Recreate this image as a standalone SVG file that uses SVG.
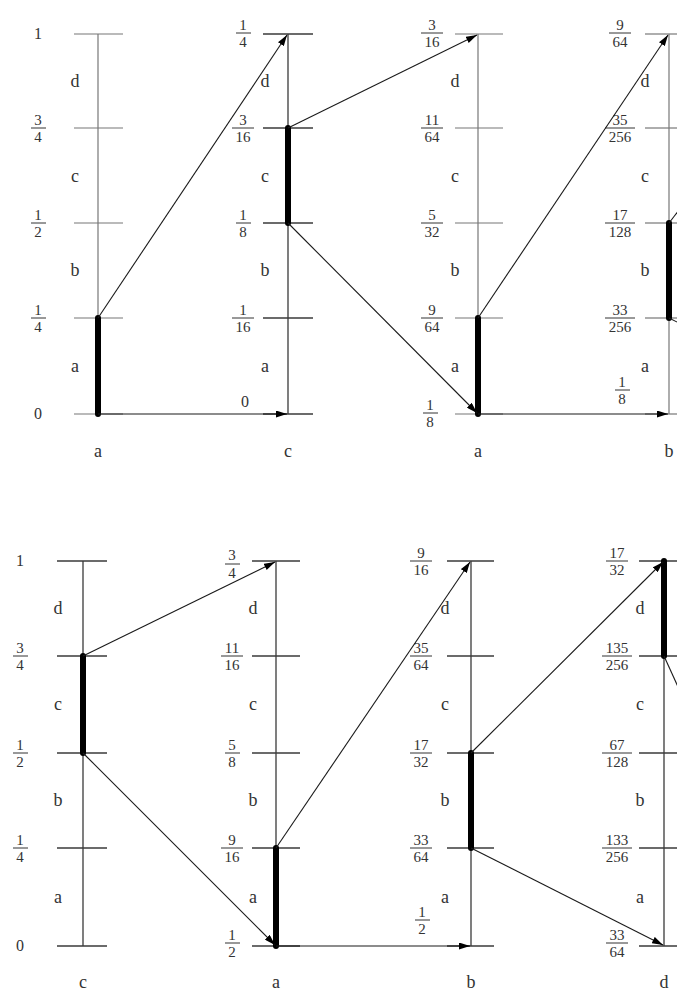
<svg xmlns="http://www.w3.org/2000/svg" width="677" height="996" viewBox="0 0 677 996">
<style>
  .ax { stroke: #3a3a3a; stroke-width: 1.3; fill: none; }
  .ax2 { stroke: #777; stroke-width: 1.2; fill: none; }
  .bar { stroke: #000; stroke-width: 6; stroke-linecap: round; fill: none; }
  .arr { stroke: #1a1a1a; stroke-width: 1.1; fill: none; marker-end: url(#ah); }
  .ln { stroke: #1a1a1a; stroke-width: 1.1; fill: none; }
  .fb { stroke: #333; stroke-width: 1; }
  .fr { font-family: "Liberation Serif", "Times New Roman", serif; font-size: 15px; fill: #333; text-anchor: middle; }
  .dg { font-family: "Liberation Serif", "Times New Roman", serif; font-size: 16px; fill: #333; text-anchor: middle; }
  .lt { font-family: "Liberation Serif", "Times New Roman", serif; font-size: 18px; fill: #333; text-anchor: middle; }
</style>
<defs>
  <marker id="ah" markerUnits="userSpaceOnUse" markerWidth="11" markerHeight="7" refX="11" refY="3.5" orient="auto">
    <path d="M0,0 L11,3.5 L0,7 z" fill="#000"/>
  </marker>
</defs>
<rect width="677" height="996" fill="#fff"/>

<!-- ============ TOP ROW ============ -->
<g id="top-col1">
  <line class="ax2" x1="98" y1="34" x2="98" y2="414"/>
  <g class="ax2"><line x1="74" y1="34" x2="123" y2="34"/><line x1="74" y1="128" x2="123" y2="128"/><line x1="74" y1="223" x2="123" y2="223"/><line x1="74" y1="318" x2="123" y2="318"/><line x1="74" y1="414" x2="123" y2="414"/></g>
  <line class="bar" x1="98" y1="318" x2="98" y2="414"/>
  <text class="dg" x="38" y="39">1</text>
  <text class="fr" x="38" y="125">3</text><line class="fb" x1="31" y1="128" x2="46" y2="128"/><text class="fr" x="38" y="142">4</text>
  <text class="fr" x="38" y="220">1</text><line class="fb" x1="31" y1="223" x2="46" y2="223"/><text class="fr" x="38" y="237">2</text>
  <text class="fr" x="38" y="315">1</text><line class="fb" x1="31" y1="318" x2="46" y2="318"/><text class="fr" x="38" y="332">4</text>
  <text class="dg" x="38" y="419">0</text>
  <text class="lt" x="75" y="87">d</text><text class="lt" x="75" y="182">c</text><text class="lt" x="75" y="276">b</text><text class="lt" x="75" y="372">a</text>
  <text class="lt" x="98" y="457">a</text>
</g>

<g id="top-col2">
  <line class="ax" x1="288" y1="34" x2="288" y2="414"/>
  <g class="ax"><line x1="263" y1="34" x2="313" y2="34"/><line x1="263" y1="128" x2="313" y2="128"/><line x1="263" y1="223" x2="313" y2="223"/><line x1="263" y1="318" x2="313" y2="318"/><line x1="263" y1="414" x2="313" y2="414"/></g>
  <line class="bar" x1="288" y1="128" x2="288" y2="223"/>
  <text class="fr" x="243" y="30">1</text><line class="fb" x1="236" y1="33" x2="251" y2="33"/><text class="fr" x="243" y="47">4</text>
  <text class="fr" x="243" y="125">3</text><line class="fb" x1="232" y1="128" x2="254" y2="128"/><text class="fr" x="243" y="142">16</text>
  <text class="fr" x="243" y="220">1</text><line class="fb" x1="236" y1="223" x2="251" y2="223"/><text class="fr" x="243" y="237">8</text>
  <text class="fr" x="243" y="315">1</text><line class="fb" x1="232" y1="318" x2="254" y2="318"/><text class="fr" x="243" y="332">16</text>
  <text class="dg" x="245" y="407">0</text>
  <text class="lt" x="265" y="87">d</text><text class="lt" x="265" y="182">c</text><text class="lt" x="265" y="276">b</text><text class="lt" x="265" y="372">a</text>
  <text class="lt" x="288" y="457">c</text>
</g>

<g id="top-col3">
  <line class="ax2" x1="478" y1="34" x2="478" y2="414"/>
  <g class="ax2"><line x1="455" y1="34" x2="503" y2="34"/><line x1="455" y1="128" x2="503" y2="128"/><line x1="455" y1="223" x2="503" y2="223"/><line x1="455" y1="318" x2="503" y2="318"/><line x1="455" y1="414" x2="503" y2="414"/></g>
  <line class="bar" x1="478" y1="318" x2="478" y2="414"/>
  <text class="fr" x="432" y="30">3</text><line class="fb" x1="421" y1="33" x2="443" y2="33"/><text class="fr" x="432" y="47">16</text>
  <text class="fr" x="432" y="125">11</text><line class="fb" x1="421" y1="128" x2="443" y2="128"/><text class="fr" x="432" y="142">64</text>
  <text class="fr" x="432" y="220">5</text><line class="fb" x1="421" y1="223" x2="443" y2="223"/><text class="fr" x="432" y="237">32</text>
  <text class="fr" x="432" y="315">9</text><line class="fb" x1="421" y1="318" x2="443" y2="318"/><text class="fr" x="432" y="332">64</text>
  <text class="fr" x="430" y="410">1</text><line class="fb" x1="423" y1="413" x2="438" y2="413"/><text class="fr" x="430" y="427">8</text>
  <text class="lt" x="455" y="87">d</text><text class="lt" x="455" y="182">c</text><text class="lt" x="455" y="276">b</text><text class="lt" x="455" y="372">a</text>
  <text class="lt" x="478" y="457">a</text>
</g>

<g id="top-col4">
  <line class="ax2" x1="669" y1="34" x2="669" y2="414"/>
  <g class="ax2"><line x1="645" y1="34" x2="677" y2="34"/><line x1="645" y1="128" x2="677" y2="128"/><line x1="645" y1="223" x2="677" y2="223"/><line x1="645" y1="318" x2="677" y2="318"/><line x1="645" y1="414" x2="677" y2="414"/></g>
  <line class="bar" x1="669" y1="223" x2="669" y2="318"/>
  <text class="fr" x="620" y="30">9</text><line class="fb" x1="609" y1="33" x2="631" y2="33"/><text class="fr" x="620" y="47">64</text>
  <text class="fr" x="620" y="125">35</text><line class="fb" x1="605" y1="128" x2="635" y2="128"/><text class="fr" x="620" y="142">256</text>
  <text class="fr" x="620" y="220">17</text><line class="fb" x1="605" y1="223" x2="635" y2="223"/><text class="fr" x="620" y="237">128</text>
  <text class="fr" x="620" y="315">33</text><line class="fb" x1="605" y1="318" x2="635" y2="318"/><text class="fr" x="620" y="332">256</text>
  <text class="fr" x="622" y="387">1</text><line class="fb" x1="615" y1="390" x2="630" y2="390"/><text class="fr" x="622" y="404">8</text>
  <text class="lt" x="645" y="87">d</text><text class="lt" x="645" y="182">c</text><text class="lt" x="645" y="276">b</text><text class="lt" x="645" y="372">a</text>
  <text class="lt" x="669" y="457">b</text>
</g>

<!-- ============ BOTTOM ROW ============ -->
<g id="bot-col1">
  <line class="ax" x1="83" y1="561" x2="83" y2="946"/>
  <g class="ax"><line x1="57" y1="561" x2="107" y2="561"/><line x1="57" y1="656" x2="107" y2="656"/><line x1="57" y1="753" x2="107" y2="753"/><line x1="57" y1="848" x2="107" y2="848"/><line x1="57" y1="946" x2="107" y2="946"/></g>
  <line class="bar" x1="83" y1="656" x2="83" y2="753"/>
  <text class="dg" x="20" y="566">1</text>
  <text class="fr" x="20" y="653">3</text><line class="fb" x1="13" y1="656" x2="28" y2="656"/><text class="fr" x="20" y="670">4</text>
  <text class="fr" x="20" y="750">1</text><line class="fb" x1="13" y1="753" x2="28" y2="753"/><text class="fr" x="20" y="767">2</text>
  <text class="fr" x="20" y="845">1</text><line class="fb" x1="13" y1="848" x2="28" y2="848"/><text class="fr" x="20" y="862">4</text>
  <text class="dg" x="20" y="951">0</text>
  <text class="lt" x="58" y="614">d</text><text class="lt" x="58" y="710">c</text><text class="lt" x="58" y="806">b</text><text class="lt" x="58" y="903">a</text>
  <text class="lt" x="83" y="988">c</text>
</g>

<g id="bot-col2">
  <line class="ax" x1="276" y1="561" x2="276" y2="946"/>
  <g class="ax"><line x1="252" y1="561" x2="300" y2="561"/><line x1="252" y1="656" x2="300" y2="656"/><line x1="252" y1="753" x2="300" y2="753"/><line x1="252" y1="848" x2="300" y2="848"/><line x1="252" y1="946" x2="300" y2="946"/></g>
  <line class="bar" x1="276" y1="848" x2="276" y2="946"/>
  <text class="fr" x="232" y="560">3</text><line class="fb" x1="225" y1="564" x2="240" y2="564"/><text class="fr" x="232" y="578">4</text>
  <text class="fr" x="232" y="653">11</text><line class="fb" x1="221" y1="656" x2="243" y2="656"/><text class="fr" x="232" y="670">16</text>
  <text class="fr" x="232" y="750">5</text><line class="fb" x1="225" y1="753" x2="240" y2="753"/><text class="fr" x="232" y="767">8</text>
  <text class="fr" x="232" y="845">9</text><line class="fb" x1="221" y1="848" x2="243" y2="848"/><text class="fr" x="232" y="862">16</text>
  <text class="fr" x="232" y="940">1</text><line class="fb" x1="225" y1="943" x2="240" y2="943"/><text class="fr" x="232" y="957">2</text>
  <text class="lt" x="253" y="614">d</text><text class="lt" x="253" y="710">c</text><text class="lt" x="253" y="806">b</text><text class="lt" x="253" y="903">a</text>
  <text class="lt" x="276" y="988">a</text>
</g>

<g id="bot-col3">
  <line class="ax" x1="471" y1="561" x2="471" y2="946"/>
  <g class="ax"><line x1="447" y1="561" x2="494" y2="561"/><line x1="447" y1="656" x2="494" y2="656"/><line x1="447" y1="753" x2="494" y2="753"/><line x1="447" y1="848" x2="494" y2="848"/><line x1="447" y1="946" x2="494" y2="946"/></g>
  <line class="bar" x1="471" y1="753" x2="471" y2="848"/>
  <text class="fr" x="421" y="558">9</text><line class="fb" x1="410" y1="561" x2="432" y2="561"/><text class="fr" x="421" y="575">16</text>
  <text class="fr" x="421" y="653">35</text><line class="fb" x1="410" y1="656" x2="432" y2="656"/><text class="fr" x="421" y="670">64</text>
  <text class="fr" x="421" y="750">17</text><line class="fb" x1="410" y1="753" x2="432" y2="753"/><text class="fr" x="421" y="767">32</text>
  <text class="fr" x="421" y="845">33</text><line class="fb" x1="410" y1="848" x2="432" y2="848"/><text class="fr" x="421" y="862">64</text>
  <text class="fr" x="422" y="917">1</text><line class="fb" x1="415" y1="920" x2="430" y2="920"/><text class="fr" x="422" y="934">2</text>
  <text class="lt" x="445" y="614">d</text><text class="lt" x="445" y="710">c</text><text class="lt" x="445" y="806">b</text><text class="lt" x="445" y="903">a</text>
  <text class="lt" x="471" y="988">b</text>
</g>

<g id="bot-col4">
  <line class="ax" x1="664" y1="561" x2="664" y2="946"/>
  <g class="ax"><line x1="639" y1="561" x2="677" y2="561"/><line x1="639" y1="656" x2="677" y2="656"/><line x1="639" y1="753" x2="677" y2="753"/><line x1="639" y1="848" x2="677" y2="848"/><line x1="639" y1="946" x2="677" y2="946"/></g>
  <line class="bar" x1="664" y1="561" x2="664" y2="656"/>
  <text class="fr" x="617" y="558">17</text><line class="fb" x1="606" y1="561" x2="628" y2="561"/><text class="fr" x="617" y="575">32</text>
  <text class="fr" x="617" y="653">135</text><line class="fb" x1="602" y1="656" x2="632" y2="656"/><text class="fr" x="617" y="670">256</text>
  <text class="fr" x="617" y="750">67</text><line class="fb" x1="602" y1="753" x2="632" y2="753"/><text class="fr" x="617" y="767">128</text>
  <text class="fr" x="617" y="845">133</text><line class="fb" x1="602" y1="848" x2="632" y2="848"/><text class="fr" x="617" y="862">256</text>
  <text class="fr" x="617" y="940">33</text><line class="fb" x1="606" y1="943" x2="628" y2="943"/><text class="fr" x="617" y="957">64</text>
  <text class="lt" x="640" y="614">d</text><text class="lt" x="640" y="710">c</text><text class="lt" x="640" y="806">b</text><text class="lt" x="640" y="903">a</text>
  <text class="lt" x="664" y="988">d</text>
</g>

<!-- ============ CONNECTORS ============ -->
<g id="connectors">
  <line class="arr" x1="98" y1="318" x2="287" y2="35"/>
  <line class="arr" x1="98" y1="414" x2="287" y2="414"/>
  <line class="arr" x1="288" y1="128" x2="477" y2="35"/>
  <line class="arr" x1="288" y1="223" x2="477" y2="413"/>
  <line class="arr" x1="478" y1="318" x2="668" y2="35"/>
  <line class="arr" x1="478" y1="414" x2="668" y2="414"/>
  <line class="ln" x1="669" y1="223" x2="679" y2="210"/>
  <line class="ln" x1="669" y1="318" x2="679" y2="323"/>

  <line class="arr" x1="83" y1="656" x2="275" y2="562"/>
  <line class="arr" x1="83" y1="753" x2="275" y2="945"/>
  <line class="arr" x1="276" y1="848" x2="470" y2="562"/>
  <line class="arr" x1="276" y1="946" x2="470" y2="946"/>
  <line class="arr" x1="471" y1="753" x2="663" y2="562"/>
  <line class="arr" x1="471" y1="848" x2="663" y2="945"/>
  <line class="ln" x1="664" y1="656" x2="679" y2="689"/>
</g>
</svg>
